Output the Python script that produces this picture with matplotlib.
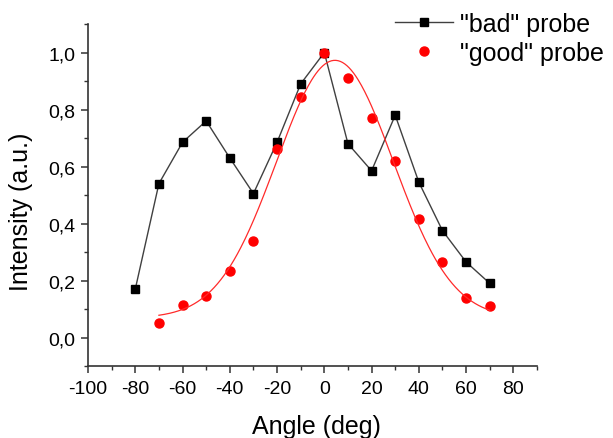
import numpy as np
import matplotlib.pyplot as plt
from matplotlib.ticker import MultipleLocator, FuncFormatter

plt.rcParams['font.family'] = ['Liberation Sans', 'DejaVu Sans']

# angles (deg)
angles = [-80, -70, -60, -50, -40, -30, -20, -10, 0, 10, 20, 30, 40, 50, 60, 70]
bad = [0.17, 0.54, 0.685, 0.76, 0.63, 0.505, 0.685, 0.89, 1.0,
       0.68, 0.585, 0.78, 0.545, 0.375, 0.265, 0.19]

good_angles = [-70, -60, -50, -40, -30, -20, -10, 0, 10, 20, 30, 40, 50, 60, 70]
good = [0.05, 0.115, 0.145, 0.235, 0.34, 0.66, 0.845, 1.0,
        0.91, 0.77, 0.62, 0.415, 0.265, 0.14, 0.11]


# gauss fit y0 + A*exp(-(x-xc)^2/(2w^2)), brute force over xc, w
def gauss_fit(x, y):
	x = np.asarray(x, float)
	y = np.asarray(y, float)
	best = None
	for xc in np.arange(-10, 10.01, 0.25):
		for w in np.arange(10, 45.01, 0.25):
			g = np.exp(-(x - xc)**2 / (2*w**2))
			M = np.column_stack([np.ones_like(g), g])
			coef = np.linalg.lstsq(M, y, rcond=None)[0]
			err = np.sum((M @ coef - y)**2)
			if best is None or err < best[0]:
				best = (err, coef[0], coef[1], xc, w)
	return best[1:]

y0, A, xc, w = gauss_fit(good_angles, good)
xf = np.linspace(good_angles[0], good_angles[-1], 300)
yf = y0 + A*np.exp(-(xf - xc)**2 / (2*w**2))

fig = plt.figure(figsize=(6.13, 4.39), dpi=100)
ax = fig.add_axes([0.1436, 0.164, 0.7324, 0.779])

ax.plot(angles, bad, '-s', color='#404040', lw=1, ms=6, mfc='black', mec='black',
	label='"bad" probe')
ax.plot(good_angles, good, 'o', color='red', ms=6.5, label='"good" probe')
ax.plot(xf, yf, '-', color='#ff2a2a', lw=0.9)

ax.set_xlim(-100, 90)
ax.set_ylim(-0.1, 1.1)
ax.xaxis.set_major_locator(MultipleLocator(20))
ax.xaxis.set_minor_locator(MultipleLocator(10))
ax.yaxis.set_major_locator(MultipleLocator(0.2))
ax.yaxis.set_minor_locator(MultipleLocator(0.1))
ax.yaxis.set_major_formatter(FuncFormatter(lambda v, p: ('%.1f' % v).replace('.', ',')))
ax.xaxis.set_major_formatter(FuncFormatter(lambda v, p: '%d' % v))

ax.spines['top'].set_visible(False)
ax.spines['right'].set_visible(False)
for s in ('left', 'bottom'):
	ax.spines[s].set_color('#333333')
	ax.spines[s].set_linewidth(1.2)
ax.tick_params(which='both', direction='out', colors='#333333', labelcolor='black', labelsize=14)
ax.tick_params(which='major', length=5, width=1.1)
ax.tick_params(which='minor', length=3, width=1.0)
ax.tick_params(axis='x', which='major', pad=5)
ax.tick_params(axis='y', which='major', pad=4)

ax.set_xlabel('Angle (deg)', fontsize=18)
ax.set_ylabel('Intensity (a.u.)', fontsize=18)
ax.xaxis.set_label_coords(0.508, -0.14)
ax.yaxis.set_label_coords(-0.1225, 0.453)

fig.legend(loc='upper left', bbox_to_anchor=(395/613, 0.971), frameon=False, fontsize=18,
	handlelength=2.3, handletextpad=0.3, labelspacing=0.22, borderpad=0,
	borderaxespad=0, numpoints=1)

fig.savefig('out.png', dpi=100)
